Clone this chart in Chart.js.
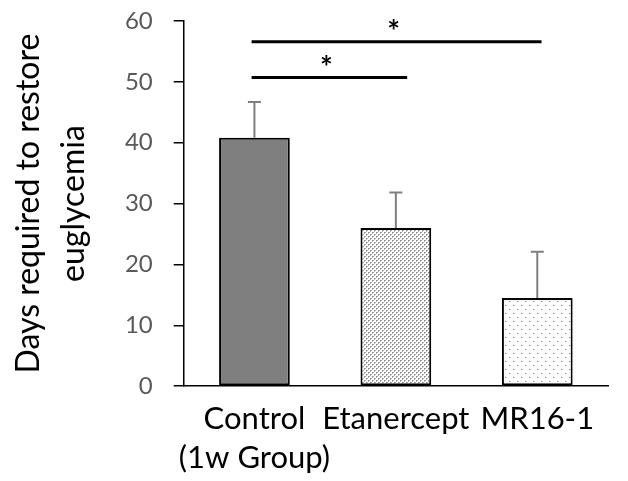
<!DOCTYPE html>
<html>
<head>
<meta charset="utf-8">
<script src="https://cdn.jsdelivr.net/npm/chart.js@4.4.1/dist/chart.umd.min.js"></script>
<style>
  html, body { margin: 0; padding: 0; background: #ffffff; }
  #wrap { width: 628px; height: 481px; }
</style>
</head>
<body>
<div id="wrap"><canvas id="c" width="628" height="481"></canvas></div>
<script>
// Groups and measured values (days)
const categories = [["Control", "(1w Group)"], "Etanercept", "MR16-1"];
const meanDays = [40.8, 26.0, 14.5];
const errDays = [5.9, 5.8, 7.6];
const yTicks = [0, 10, 20, 30, 40, 50, 60];

// Significance brackets: start/end in category units, height in days
const sigFrom = [-0.02, -0.02];
const sigTo = [1.08, 2.03];
const sigLevel = [50.7, 56.6];
const sigMark = ["*", "*"];

const FONT = "Lato, 'Open Sans', sans-serif";

// Fill patterns for the treated groups
function makePattern(w, h, draw) {
  const c = document.createElement('canvas');
  c.width = w; c.height = h;
  const g = c.getContext('2d');
  g.fillStyle = '#ffffff';
  g.fillRect(0, 0, w, h);
  draw(g);
  return document.getElementById('c').getContext('2d').createPattern(c, 'repeat');
}
const latticeFill = makePattern(4, 4, g => {
  g.fillStyle = '#8a8a8a';
  g.fillRect(0, 0, 1, 1);
  g.fillRect(2, 2, 1, 1);
  g.fillStyle = '#b0b0b0';
  g.fillRect(1, 0, 1, 1);
  g.fillRect(0, 1, 1, 1);
  g.fillRect(3, 2, 1, 1);
  g.fillRect(2, 3, 1, 1);
});
const dotFill = makePattern(8, 8, g => {
  g.fillStyle = '#8c8c8c';
  g.fillRect(1, 1, 1, 1);
  g.fillRect(5, 5, 1, 1);
  g.fillStyle = '#d0d0d0';
  g.fillRect(2, 1, 1, 1);
  g.fillRect(6, 5, 1, 1);
});

const barFills = ['#7f7f7f', latticeFill, dotFill];

// Upper error bars with caps
const errorBars = {
  id: 'errorBars',
  afterDatasetsDraw(chart) {
    const ctx = chart.ctx;
    const y = chart.scales.y;
    const meta = chart.getDatasetMeta(0);
    ctx.save();
    ctx.strokeStyle = '#7f7f7f';
    ctx.lineWidth = 2;
    meta.data.forEach((bar, i) => {
      const top = y.getPixelForValue(meanDays[i] + errDays[i]);
      const base = y.getPixelForValue(meanDays[i]);
      ctx.beginPath();
      ctx.moveTo(bar.x, base);
      ctx.lineTo(bar.x, top);
      ctx.moveTo(bar.x - 6.5, top);
      ctx.lineTo(bar.x + 6.5, top);
      ctx.stroke();
    });
    ctx.restore();
  }
};

// Significance lines with stars
const sigBrackets = {
  id: 'sigBrackets',
  afterDraw(chart) {
    const ctx = chart.ctx;
    const x = chart.scales.x, y = chart.scales.y;
    const step = x.getPixelForValue(1) - x.getPixelForValue(0);
    ctx.save();
    ctx.strokeStyle = '#000000';
    ctx.lineWidth = 3;
    ctx.fillStyle = '#000000';
    ctx.font = 'bold 30px ' + FONT;
    ctx.textAlign = 'center';
    ctx.textBaseline = 'middle';
    sigLevel.forEach((lvl, i) => {
      const x0 = x.getPixelForValue(0) + sigFrom[i] * step;
      const x1 = x.getPixelForValue(0) + sigTo[i] * step;
      const py = y.getPixelForValue(lvl);
      ctx.beginPath();
      ctx.moveTo(x0, py);
      ctx.lineTo(x1, py);
      ctx.stroke();
      ctx.fillText(sigMark[i], (x0 + x1) / 2 - 3, py - 9);
    });
    ctx.restore();
  }
};

new Chart(document.getElementById('c'), {
  type: 'bar',
  data: {
    labels: categories,
    datasets: [{
      data: meanDays,
      backgroundColor: barFills,
      borderColor: '#000000',
      borderWidth: 2,
      borderSkipped: false,
      categoryPercentage: 1.0,
      barPercentage: 0.5
    }]
  },
  options: {
    responsive: false,
    devicePixelRatio: 1,
    animation: false,
    layout: { padding: { top: 0, right: 20, left: 1, bottom: -10 } },
    plugins: { legend: { display: false }, tooltip: { enabled: false } },
    scales: {
      x: {
        grid: { display: false, drawTicks: false },
        border: { display: true, color: '#000000', width: 1.5 },
        ticks: {
          color: '#000000',
          font: { family: FONT, size: 31, lineHeight: 1.24 },
          padding: 14,
          maxRotation: 0,
          autoSkip: false
        }
      },
      y: {
        min: 0,
        max: 60,
        afterBuildTicks(axis) { axis.ticks = yTicks.map(v => ({ value: v })); },
        // keep the top of the axis close to the canvas edge
        afterFit(axis) { axis.paddingTop = 21; },
        grid: { drawOnChartArea: false, drawTicks: true, tickLength: 10, color: '#000000', lineWidth: 1.5 },
        border: { display: true, color: '#000000', width: 1.5 },
        ticks: {
          color: '#595959',
          font: { family: FONT, size: 24, lineHeight: 1.1 },
          padding: 21
        },
        title: {
          display: true,
          text: ['Days required to restore', 'euglycemia'],
          color: '#000000',
          font: { family: FONT, size: 32, lineHeight: 1.42 },
          padding: { top: 5, bottom: 7 }
        }
      }
    }
  },
  plugins: [errorBars, sigBrackets]
});
</script>
</body>
</html>
